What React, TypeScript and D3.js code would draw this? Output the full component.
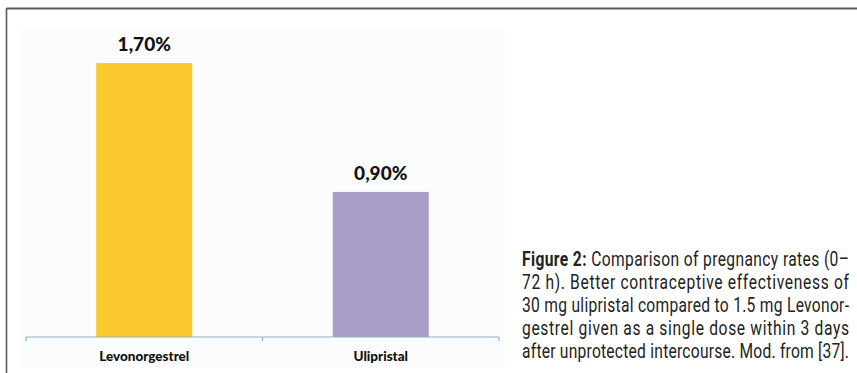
import React from "react";
import * as d3 from "d3";

// Pregnancy rates (0–72 h) by emergency contraceptive
const categories = ["Levonorgestrel", "Ulipristal"];
const rates = [1.7, 0.9];
const barColors = ["#fac82f", "#a89ec6"];

const captionLines = [
  "72 h). Better contraceptive effectiveness of",
  "30 mg ulipristal compared to 1.5 mg Levonor-",
  "gestrel given as a single dose within 3 days",
  "after unprotected intercourse. Mod. from [37].",
];

const W = 857;
const H = 373;

export default function App() {
  const x = d3.scaleBand<string>().domain(categories).range([26, 499]).padding(0);
  const y = d3.scaleLinear().domain([0, 2]).range([337, 14.6]);
  const barW = x.bandwidth() * 0.406;
  const fmt = (v: number) => d3.format(".2f")(v).replace(".", ",") + "%";
  const tickXs = [...categories.map((c) => x(c)!), x.range()[1]];

  const capX = 522;
  const capLen = 327;
  const sx = 0.8;
  const lineH = 23;
  const firstBase = 266;

  return (
    <svg
      width={W}
      height={H}
      style={{ position: "absolute", left: 0, top: 0, background: "#fff" }}
    >
      {/* outer frame */}
      <line x1={6.5} y1={8.5} x2={W} y2={8.5} stroke="#5a5a5a" strokeWidth={2} />
      <line x1={6.5} y1={8} x2={6.5} y2={H} stroke="#5a5a5a" strokeWidth={1.6} />

      {/* chart area */}
      <rect x={19} y={30} width={486} height={337} fill="#fbfcfd" />

      {categories.map((c, i) => {
        const cx = x(c)! + x.bandwidth() / 2;
        return (
          <g key={c}>
            <rect
              x={cx - barW / 2}
              y={y(rates[i])}
              width={barW}
              height={y(0) - y(rates[i])}
              fill={barColors[i]}
            />
            <text
              x={cx}
              y={y(rates[i]) - 12}
              textAnchor="middle"
              fontFamily="Lato, sans-serif"
              fontWeight={900}
              fontSize={19}
              fill="#111"
            >
              {fmt(rates[i])}
            </text>
            <text
              x={cx}
              y={361}
              textAnchor="middle"
              fontFamily="Lato, sans-serif"
              fontWeight={900}
              fontSize={13.5}
              fill="#111"
            >
              {c}
            </text>
          </g>
        );
      })}

      {/* category axis */}
      <line x1={x.range()[0]} y1={y(0)} x2={x.range()[1]} y2={y(0)} stroke="#8fb0c6" strokeWidth={1.2} />
      {tickXs.map((t, i) => (
        <line key={i} x1={t} y1={y(0)} x2={t} y2={y(0) + 4} stroke="#8fb0c6" strokeWidth={1.2} />
      ))}

      {/* figure caption */}
      <g fontFamily="Roboto, sans-serif" fontSize={19.5} fill="#222">
        <text
          transform={`translate(${capX},${firstBase}) scale(${sx},1)`}
          textLength={capLen / sx}
          lengthAdjust="spacing"
        >
          <tspan fontWeight={700}>Figure 2:</tspan>
          <tspan> Comparison of pregnancy rates (0–</tspan>
        </text>
        {captionLines.map((l, i) => (
          <text
            key={i}
            transform={`translate(${capX},${firstBase + (i + 1) * lineH}) scale(${sx},1)`}
            textLength={capLen / sx}
            lengthAdjust="spacing"
          >
            {l}
          </text>
        ))}
      </g>
    </svg>
  );
}
